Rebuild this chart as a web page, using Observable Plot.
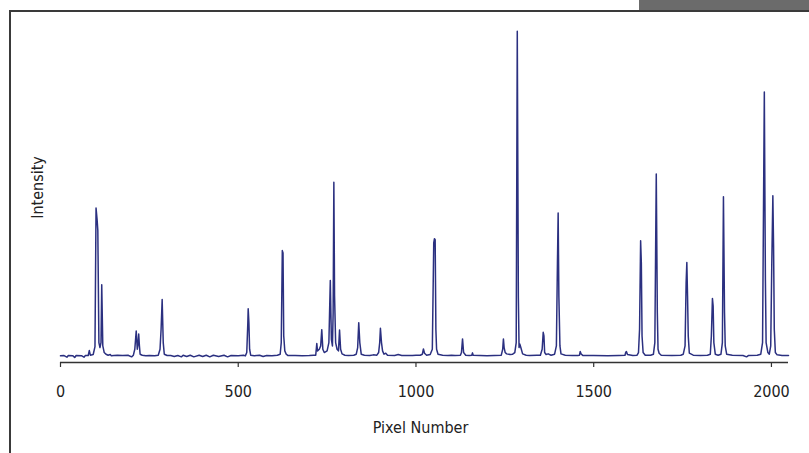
<!DOCTYPE html>
<html>
<head>
<meta charset="utf-8">
<script src="https://cdn.jsdelivr.net/npm/d3@7"></script>
<script src="https://cdn.jsdelivr.net/npm/@observablehq/plot@0.6"></script>
<style>
  html, body { margin: 0; padding: 0; background: #fff; }
  #wrap { position: relative; width: 809px; height: 453px; overflow: hidden; }
  #wrap svg { position: absolute; left: 0; top: 0; }
  .topline { position: absolute; left: 9px; top: 10px; width: 800px; height: 1.5px; background: #3a3a3a; }
  .leftline { position: absolute; left: 9px; top: 10px; width: 1.5px; height: 443px; background: #3a3a3a; }
  .tab { position: absolute; left: 639px; top: 0; width: 170px; height: 9.5px; background: #6b6b6b; }
</style>
</head>
<body>
<div id="wrap">
  <div class="tab"></div>
  <div class="topline"></div>
  <div class="leftline"></div>
</div>
<script>
const pixel = [
  0, 10, 18, 22, 35, 40, 44, 60, 66, 70, 78, 81, 84, 92, 97, 100, 103, 105, 108, 111, 114, 116, 119, 123, 128, 134, 140, 143, 150, 160, 175, 190, 200, 205, 209, 213, 216, 218, 220, 222, 224, 230, 240, 250, 265, 275, 280, 283, 286, 289, 292, 300, 310, 320, 330,
  340, 345, 355, 365, 375, 390, 400, 410, 420, 430, 445, 460, 470, 480, 500, 515, 520, 524, 527, 528, 530, 532, 535, 545, 560, 570, 580, 595, 610, 618, 621, 624, 626, 628, 631, 635, 640, 660, 680, 700, 712,
  718, 721, 723, 728, 732, 735, 738, 742, 750, 755, 759, 762, 765, 767, 769, 771, 774, 778, 782, 785, 788, 792, 800, 810, 825, 832, 836, 839, 842, 846, 855, 870, 880, 890, 895, 898, 900, 903, 906, 910, 915, 920,
  940, 950, 960, 990, 1000, 1012, 1018, 1021, 1024, 1030, 1040, 1046, 1050, 1052, 1054, 1056, 1058, 1062, 1075, 1090, 1100, 1110, 1125, 1128, 1131, 1134, 1140, 1150, 1157, 1159, 1161, 1180, 1200, 1220, 1240,
  1244, 1246, 1248, 1251, 1255, 1265, 1272, 1278, 1282, 1285, 1288, 1290, 1292, 1295, 1300, 1310, 1320, 1340, 1350, 1355, 1358, 1360, 1362, 1366, 1372, 1380, 1390, 1395, 1398, 1400, 1402, 1405, 1408, 1420,
  1440, 1455, 1460, 1462, 1465, 1470, 1500, 1540, 1570, 1588, 1590, 1592, 1595, 1610, 1622, 1626, 1629, 1632, 1634, 1636, 1639, 1645, 1660, 1668, 1672, 1676, 1679, 1681, 1684, 1690, 1720, 1745, 1752, 1757,
  1760, 1762, 1764, 1766, 1769, 1780, 1800, 1820, 1828, 1831, 1834, 1836, 1838, 1842, 1850, 1858, 1862, 1865, 1868, 1870, 1874, 1890, 1920, 1930, 1935, 1960, 1970, 1975, 1980, 1983, 1985, 1990, 1994, 1998,
  2001, 2004, 2006, 2008, 2011, 2016, 2030, 2048
];
const intensity = [
  20, 21, 16, 21, 20, 15, 21, 20, 16, 21, 21, 36, 22, 24, 48, 465, 430, 398, 60, 45, 60, 234, 50, 30, 25, 22, 24, 20, 21, 22, 21, 22, 17, 22, 40, 95, 40, 55, 86, 50, 25, 22, 20, 21, 20, 22, 40, 100, 190, 60, 25, 21, 21, 18, 21,
  17, 22, 18, 22, 17, 22, 18, 22, 17, 22, 18, 22, 17, 21, 20, 22, 20, 30, 120, 162, 120, 40, 22, 20, 22, 18, 21, 20, 22, 25, 60, 337, 330, 80, 35, 25, 21, 21, 20, 21, 22,
  22, 57, 35, 40, 50, 99, 40, 30, 35, 60, 247, 70, 50, 150, 543, 200, 60, 40, 35, 98, 40, 26, 22, 21, 22, 25, 45, 120, 60, 25, 22, 21, 23, 22, 30, 60, 103, 60, 35, 25, 28, 22,
  21, 24, 21, 21, 22, 22, 25, 41, 28, 22, 24, 40, 360, 373, 370, 100, 40, 25, 22, 21, 22, 21, 22, 30, 71, 30, 22, 21, 22, 29, 22, 21, 20, 21, 22,
  40, 71, 45, 30, 26, 24, 25, 30, 60, 998, 200, 45, 56, 45, 26, 22, 21, 22, 22, 40, 91, 80, 30, 24, 26, 22, 25, 50, 300, 450, 200, 50, 26, 22,
  21, 21, 22, 33, 25, 21, 21, 20, 21, 22, 30, 33, 24, 21, 22, 30, 100, 367, 300, 80, 30, 22, 22, 25, 60, 568, 150, 40, 28, 22, 21, 22, 25, 50,
  240, 301, 200, 80, 28, 22, 21, 22, 25, 80, 193, 170, 60, 25, 22, 25, 60, 499, 150, 50, 25, 22, 21, 17, 21, 22, 25, 60, 815, 250, 60, 30, 25, 50,
  300, 502, 350, 100, 30, 23, 21, 21
];
const xTicks = [0, 500, 1000, 1500, 2000];
const xLabel = "Pixel Number";
const yLabel = "Intensity";

const data = pixel.map((p, i) => ({pixel: p, intensity: intensity[i]}));
const font = "'Liberation Sans Narrow', 'DejaVu Sans Condensed', 'Roboto', sans-serif";

const chart = Plot.plot({
  width: 809,
  height: 453,
  marginLeft: 60,
  marginRight: 21,
  marginTop: 30,
  marginBottom: 91,
  style: {fontFamily: font, fontSize: "16px", color: "#222", background: "transparent"},
  x: {domain: [0, 2048]},
  y: {domain: [0, 1000], axis: null},
  marks: [
    Plot.axisX({ticks: xTicks, tickSize: 5, tickPadding: 18, tickFormat: d => String(d), label: null, fontSize: 16, stroke: "#333", strokeWidth: 1.2}),
    Plot.ruleY([0], {stroke: "#333", strokeWidth: 1.3}),
    Plot.line(data, {x: "pixel", y: "intensity", stroke: "#2b3080", strokeWidth: 1.5, strokeLinejoin: "round"}),
    Plot.text([xLabel], {frameAnchor: "bottom", dx: -4, dy: 70, lineAnchor: "bottom", textAnchor: "middle", fontSize: 16, fill: "#222"}),
    Plot.text([yLabel], {frameAnchor: "left", rotate: -90, dx: -18, dy: -9, lineAnchor: "bottom", textAnchor: "middle", fontSize: 16, fill: "#222"})
  ]
});
document.getElementById("wrap").prepend(chart);
</script>
</body>
</html>
